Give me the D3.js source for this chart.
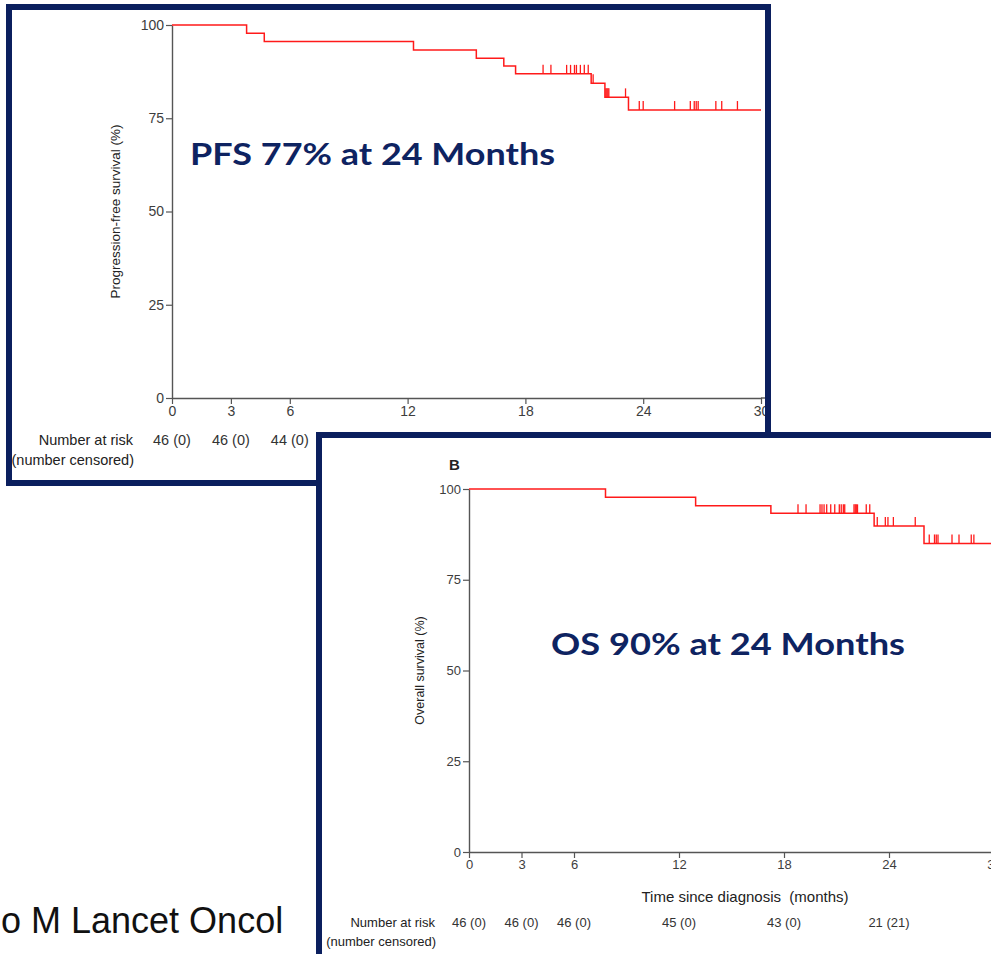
<!DOCTYPE html>
<html>
<head>
<meta charset="utf-8">
<script src="https://cdn.jsdelivr.net/npm/d3@7"></script>
<style>
  html, body { margin: 0; padding: 0; background: #fff; }
  svg { display: block; }
</style>
</head>
<body>
<svg id="chart" width="991" height="954"></svg>
<script>
// Shared axes
const monthTicks = [0, 3, 6, 12, 18, 24, 30];
const pctTicks = [0, 25, 50, 75, 100];

// Panel A: progression-free survival (step times in months, survival % after each step)
const pfsTimes = [0, 3.8, 4.7, 12.3, 15.5, 16.9, 17.5, 21.35, 22.05, 23.25, 30];
const pfsSurv  = [100, 97.8, 95.6, 93.3, 91.1, 89.0, 86.9, 84.4, 80.6, 77.2, 77.2];
const pfsCensored = [18.9, 19.3, 20.1, 20.3, 20.5, 20.6, 20.8, 21.0, 21.2, 21.45,
                     22.1, 22.15, 22.2, 22.25, 23.1, 23.8, 24.0, 25.6, 26.4, 26.6,
                     26.7, 26.8, 27.7, 28.0, 28.8];
const pfsRiskMonths = [0, 3, 6];
const pfsAtRisk = ["46 (0)", "46 (0)", "44 (0)"];

// Panel B: overall survival
const osTimes = [0, 7.8, 12.95, 17.25, 23.15, 26.0, 30];
const osSurv  = [100, 97.7, 95.4, 93.3, 89.8, 85.0, 85.0];
const osCensored = [18.8, 19.26, 20.06, 20.17, 20.29, 20.44, 20.67, 20.9, 21.16, 21.27,
                    21.39, 21.47, 22.0, 22.07, 22.13, 22.2, 22.7, 22.9, 23.33, 23.79,
                    23.94, 24.25, 25.5, 26.3, 26.6, 26.7, 26.8, 27.6, 28.0, 28.7, 28.85];
const osRiskMonths = [0, 3, 6, 12, 18, 24];
const osAtRisk = ["46 (0)", "46 (0)", "46 (0)", "45 (0)", "43 (0)", "21 (21)"];

const NAVY = "#0b1f5e";
const RED = "#ff1a1a";
const AXIS = "#555";
const LABEL = "#3d3d3d";
const FONT = "'Liberation Sans Narrow', 'Liberation Sans', Arial, sans-serif";

const svg = d3.select("#chart");

function drawPanel(g, cfg) {
  const x = d3.scaleLinear().domain([0, 30]).range(cfg.xRange);
  const y = d3.scaleLinear().domain([0, 100]).range(cfg.yRange);

  // Axes
  const yAxis = d3.axisLeft(y).tickValues(pctTicks).tickSize(6).tickSizeOuter(0).tickPadding(2);
  const xAxis = d3.axisBottom(x).tickValues(monthTicks).tickSize(6).tickSizeOuter(0).tickPadding(2);

  const ya = g.append("g").attr("transform", `translate(${cfg.xRange[0]},0)`).call(yAxis);
  const xa = g.append("g").attr("transform", `translate(0,${cfg.yRange[0]})`).call(xAxis);
  [ya, xa].forEach(a => {
    a.select(".domain").attr("stroke", AXIS).attr("stroke-width", 1.4);
    a.selectAll(".tick line").attr("stroke", AXIS).attr("stroke-width", 1.2);
    a.selectAll(".tick text").attr("fill", LABEL)
      .attr("font-family", FONT).attr("font-size", cfg.tickFont);
  });
  // the x-axis line runs on to the panel edge
  g.append("line")
    .attr("x1", x(30)).attr("x2", cfg.xLineEnd)
    .attr("y1", cfg.yRange[0]).attr("y2", cfg.yRange[0])
    .attr("stroke", AXIS).attr("stroke-width", 1.4);

  // Y title
  g.append("text")
    .attr("transform", `translate(${cfg.yTitleX},${(cfg.yRange[0] + cfg.yRange[1]) / 2}) rotate(-90)`)
    .attr("text-anchor", "middle")
    .attr("font-family", FONT).attr("font-size", cfg.yTitleFont)
    .attr("fill", "#222")
    .text(cfg.yTitle);

  // Kaplan-Meier step curve
  const pts = cfg.times.map((t, i) => [t, cfg.surv[i]]);
  const line = d3.line().x(d => x(d[0])).y(d => y(d[1])).curve(d3.curveStepAfter);
  g.append("path").datum(pts)
    .attr("d", line).attr("fill", "none")
    .attr("stroke", RED).attr("stroke-width", 1.5);

  // Censoring ticks, sitting on the curve
  const survAt = t => {
    let s = cfg.surv[0];
    cfg.times.forEach((tt, i) => { if (tt <= t) s = cfg.surv[i]; });
    return s;
  };
  g.append("g").selectAll("line").data(cfg.censored).join("line")
    .attr("x1", d => x(d)).attr("x2", d => x(d))
    .attr("y1", d => y(survAt(d))).attr("y2", d => y(survAt(d)) - cfg.tickH)
    .attr("stroke", RED).attr("stroke-width", 1.3);

  // Number at risk table
  g.append("text")
    .attr("x", cfg.riskLabelX).attr("y", cfg.riskY)
    .attr("text-anchor", "end")
    .attr("font-family", FONT).attr("font-size", cfg.riskFont).attr("fill", "#222")
    .text("Number at risk");
  g.append("text")
    .attr("x", cfg.riskLabelX + 1).attr("y", cfg.riskY + cfg.riskGap)
    .attr("text-anchor", "end")
    .attr("font-family", FONT).attr("font-size", cfg.riskFont).attr("fill", "#222")
    .text("(number censored)");
  g.append("g").selectAll("text").data(cfg.riskMonths).join("text")
    .attr("x", d => x(d)).attr("y", cfg.riskY)
    .attr("text-anchor", "middle")
    .attr("font-family", FONT).attr("font-size", cfg.riskFont).attr("fill", "#333")
    .text((d, i) => cfg.atRisk[i]);

  return { x, y };
}

// ---- Panel A ----
const gA = svg.append("g");
drawPanel(gA, {
  xRange: [172, 761], yRange: [398, 25], xLineEnd: 770,
  times: pfsTimes, surv: pfsSurv, censored: pfsCensored,
  riskMonths: pfsRiskMonths, atRisk: pfsAtRisk,
  yTitle: "Progression-free survival (%)", yTitleX: 120,
  tickFont: 14, yTitleFont: 13.5, riskFont: 14.5, tickH: 9,
  riskLabelX: 133, riskY: 445, riskGap: 20
});
gA.append("text")
  .attr("x", 190).attr("y", 165)
  .attr("font-family", "Lato, 'Open Sans', sans-serif").attr("font-weight", 700)
  .attr("font-size", 30).attr("fill", "#0e2361")
  .attr("textLength", 365).attr("lengthAdjust", "spacingAndGlyphs")
  .text("PFS 77% at 24 Months");
// Panel A frame
gA.append("rect")
  .attr("x", 9).attr("y", 7).attr("width", 759).attr("height", 476)
  .attr("fill", "none").attr("stroke", NAVY).attr("stroke-width", 6);

// ---- Panel B ----
const gB = svg.append("g");
gB.append("rect")
  .attr("x", 319).attr("y", 435).attr("width", 700).attr("height", 560)
  .attr("fill", "#fff");
gB.append("text")
  .attr("x", 449).attr("y", 470)
  .attr("font-family", FONT).attr("font-weight", 700).attr("font-size", 15)
  .attr("fill", "#222").text("B");
drawPanel(gB, {
  xRange: [469, 994], yRange: [852, 489], xLineEnd: 1000,
  times: osTimes, surv: osSurv, censored: osCensored,
  riskMonths: osRiskMonths, atRisk: osAtRisk,
  yTitle: "Overall survival (%)", yTitleX: 424,
  tickFont: 13, yTitleFont: 12.5, riskFont: 13, tickH: 9,
  riskLabelX: 435, riskY: 927, riskGap: 19
});
gB.append("text")
  .attr("x", 745).attr("y", 902).attr("text-anchor", "middle")
  .attr("font-family", FONT).attr("font-size", 15).attr("fill", "#222")
  .style("white-space", "pre")
  .text("Time since diagnosis  (months)");
gB.append("text")
  .attr("x", 551).attr("y", 655)
  .attr("font-family", "Lato, 'Open Sans', sans-serif").attr("font-weight", 700)
  .attr("font-size", 30).attr("fill", "#0e2361")
  .attr("textLength", 354).attr("lengthAdjust", "spacingAndGlyphs")
  .text("OS 90% at 24 Months");
gB.append("rect")
  .attr("x", 319).attr("y", 435).attr("width", 700).attr("height", 560)
  .attr("fill", "none").attr("stroke", NAVY).attr("stroke-width", 6);

// Source note
svg.append("text")
  .attr("x", 1).attr("y", 933)
  .attr("font-family", "'Liberation Sans', Arial, sans-serif")
  .attr("font-size", 36).attr("fill", "#111")
  .text("o M Lancet Oncol");
</script>
</body>
</html>
